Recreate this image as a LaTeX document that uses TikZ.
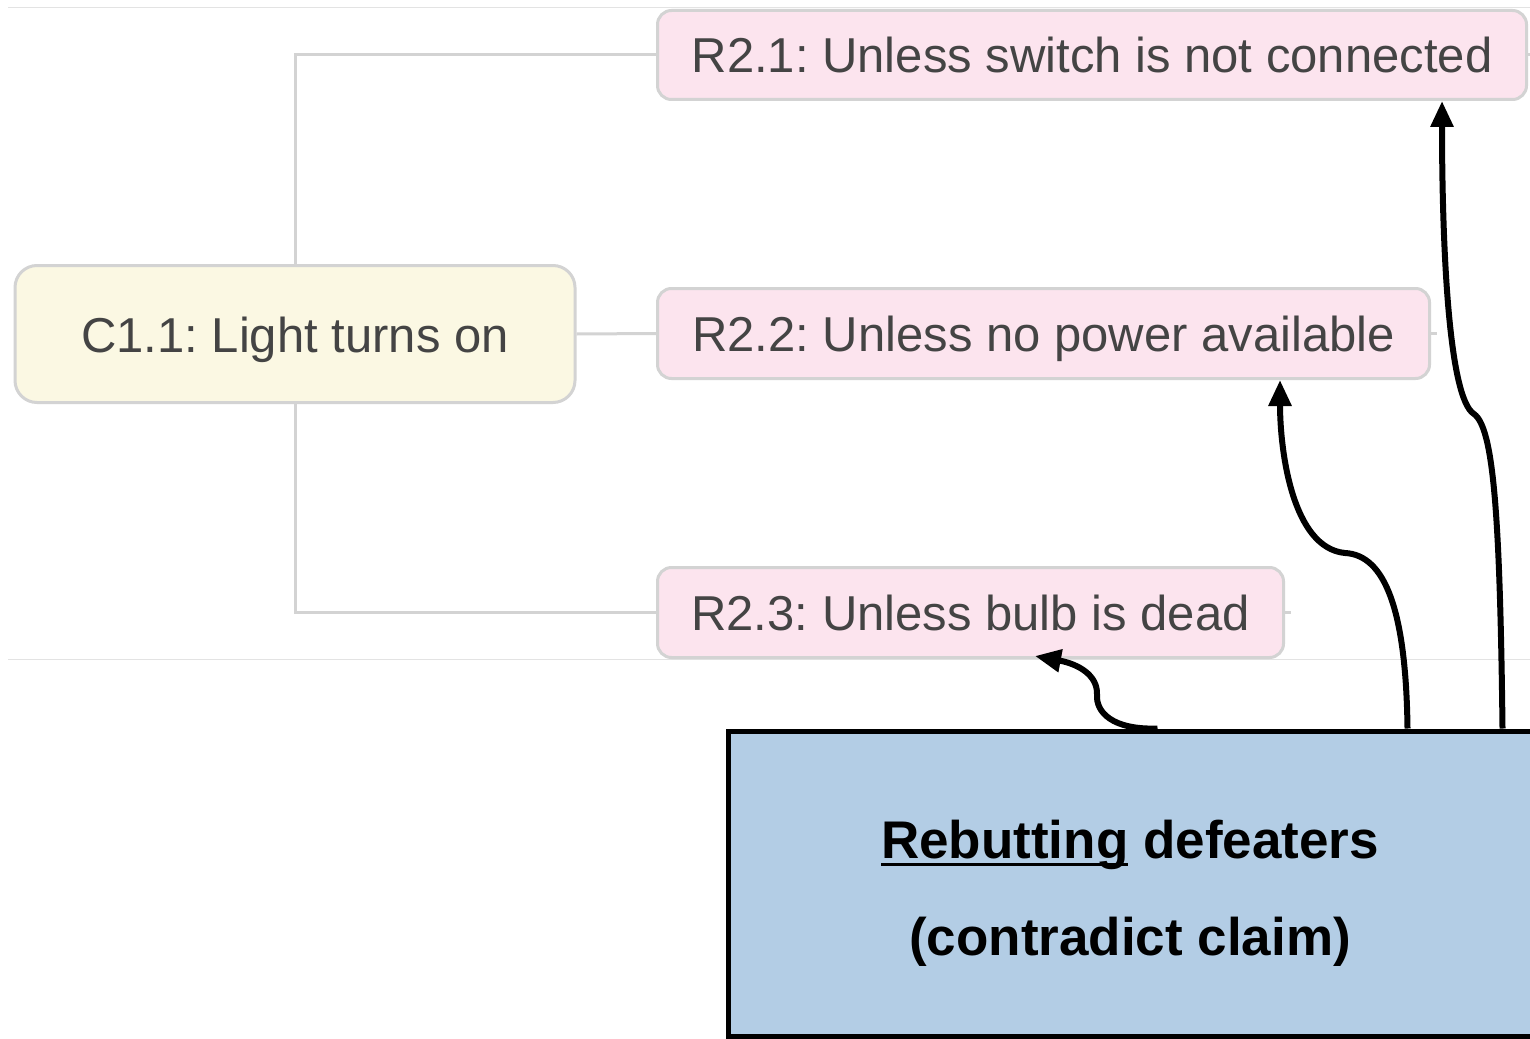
\documentclass[tikz,border=0pt]{standalone}
\usepackage{fontspec}
\setmainfont{Liberation Sans}
\usetikzlibrary{arrows.meta,calc}
\frenchspacing

\definecolor{guide}{HTML}{E3E3E3}
\definecolor{edgegray}{HTML}{D3D3D3}
\definecolor{claimfill}{HTML}{FBF8E3}
\definecolor{rebutfill}{HTML}{FCE4EE}
\definecolor{notefill}{HTML}{B3CDE5}
\definecolor{textgray}{HTML}{444444}

% thick underline used in the note box
\newcommand\thickul[1]{\sbox0{#1}\rlap{\rule[-8pt]{\wd0}{3pt}}\usebox0}

\tikzset{
  mapbox/.style={draw=edgegray, line width=3pt, inner sep=0pt,
    text=textgray, font=\fontsize{49}{58}\selectfont,
    text height=46pt, text depth=10pt},
  claimbox/.style={mapbox, fill=claimfill, rounded corners=22pt},
  rebutbox/.style={mapbox, fill=rebutfill, rounded corners=14pt},
  treeline/.style={draw=edgegray, line width=3pt},
  guideline/.style={draw=guide, line width=1pt},
  defeat/.style={draw=black, line width=6pt,
    -{Triangle[length=26pt,width=22pt]}},
  notetext/.style={font=\fontsize{53}{60}\selectfont\bfseries, anchor=base}
}

\begin{document}
\begin{tikzpicture}[x=1pt,y=-1pt]
\useasboundingbox (0,0) rectangle (1530,1038);
\clip (0,0) rectangle (1530,1038);
\fill[white] (0,0) rectangle (1530,1038);

% light section guides
\draw[guideline] (8,8) -- (1530,8);
\draw[guideline] (8,659) -- (1530,659);

% claim and its rebuttals
\node[claimbox, minimum width=560pt, minimum height=137pt] (c11) at (295,334) {C1.1: Light turns on};
\node[rebutbox, minimum width=869pt, minimum height=89pt] (r21) at (1092,55) {R2.1: Unless switch is not connected};
\node[rebutbox, minimum width=772pt, minimum height=90pt] (r22) at (1043.5,333.5) {R2.2: Unless no power available};
\node[rebutbox, minimum width=626pt, minimum height=90pt] (r23) at (970.5,612.5) {R2.3: Unless bulb is dead};

% tree connectors
\draw[treeline] (c11.north) |- (r21.west);
\draw[treeline] (c11.east) -- (r22.west);
\draw[treeline] (c11.south) |- (r23.west);
\draw[treeline] (r21.east) -- ++(6,0);
\draw[treeline] (r22.east) -- ++(6,0);
\draw[treeline] (r23.east) -- ++(6,0);

% note box
\node[draw=black, line width=5pt, fill=notefill, inner sep=0pt,
      minimum width=830pt, minimum height=305pt] (rb) at (1143,883.5) {};
\node[notetext] (l1) at (1130,858) {\thickul{Rebutting} defeaters};
\node[notetext] (l2) at (1130,955) {(contradict claim)};

% defeater arrows
\coordinate (s1) at ([xshift=777pt]rb.north west);
\coordinate (s2) at ([xshift=682pt]rb.north west);
\coordinate (s3) at ([xshift=432pt]rb.north west);
\coordinate (t1) at ([xshift=350pt]r21.south);
\coordinate (t2) at ([xshift=236.5pt]r22.south);
\coordinate (t3) at ([xshift=64.5pt,yshift=3pt]r23.south);

\draw[defeat] (s1) .. controls (1500,520) and (1494,428) .. (1474,414)
  .. controls (1448,398) and (1442,240) .. (t1);
\draw[defeat] (s2) .. controls (1406,610) and (1385,555) .. (1345,553)
  .. controls (1292,548) and (1280,450) .. (t2);
\draw[defeat] (s3) .. controls (1112,730) and (1096,712) .. (1097,695)
  .. controls (1098,675) and (1078,664) .. (t3);
\end{tikzpicture}
\end{document}
